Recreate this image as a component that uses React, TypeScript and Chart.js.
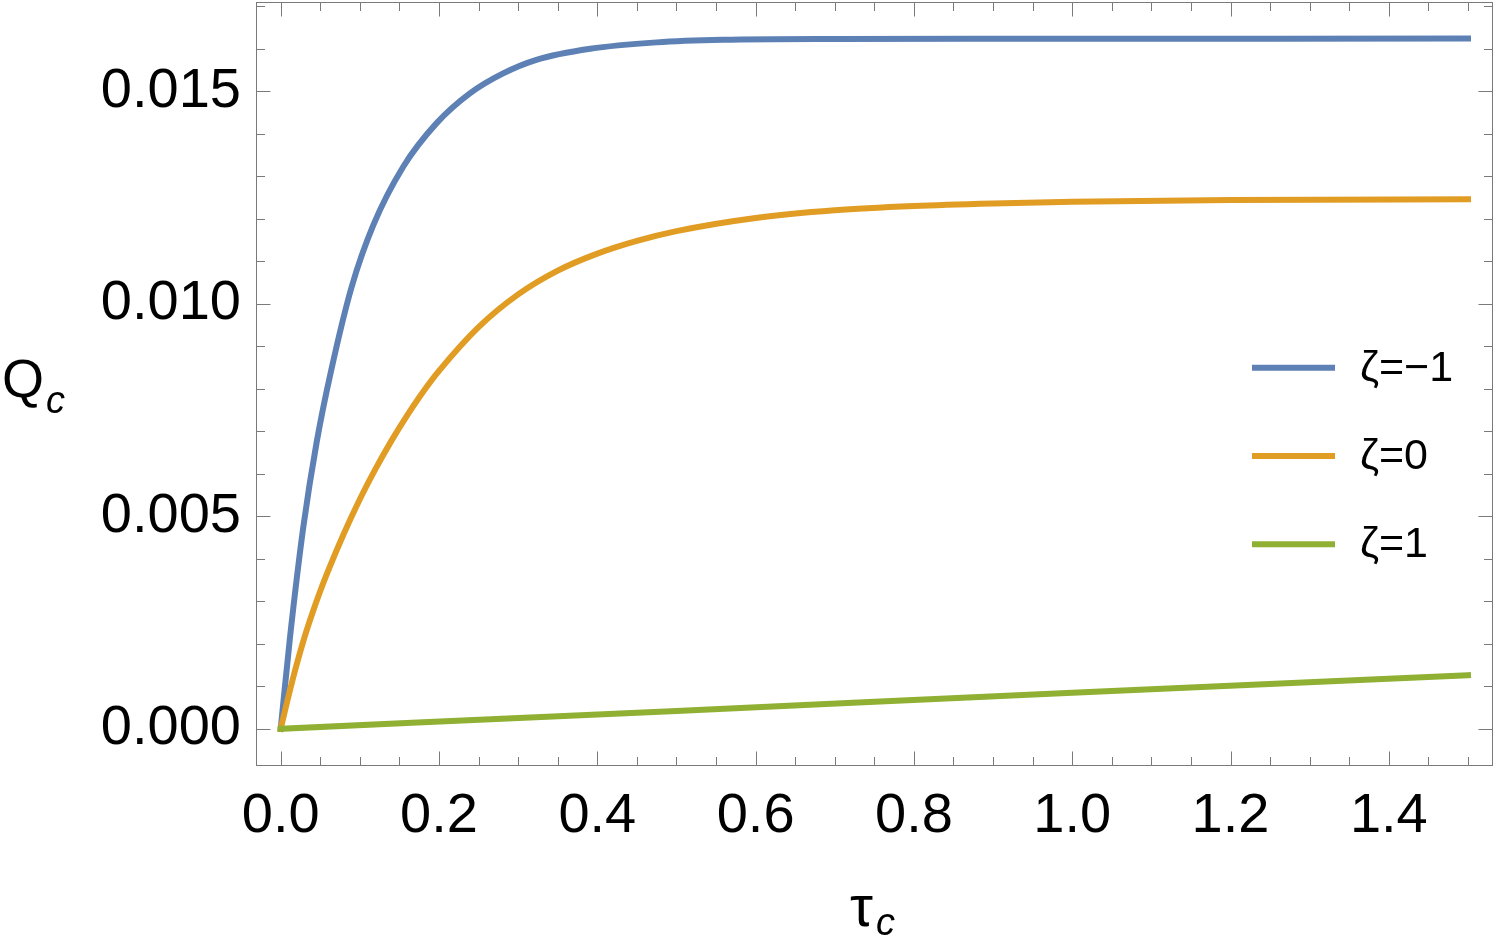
import React, { useEffect, useRef } from "react";
import { Chart, registerables } from "chart.js";

Chart.register(...registerables);

// ---- data ----
// ζ = −1
const tauZetaMinus1 = [0, 0.0118, 0.0286, 0.0455, 0.064, 0.0897, 0.117, 0.155, 0.197, 0.239, 0.281, 0.323, 0.391, 0.475, 0.559, 0.7, 1.0, 1.5];
const qZetaMinus1 = [0, 0.00216, 0.00475, 0.00675, 0.00845, 0.0104, 0.01185, 0.01323, 0.01425, 0.01495, 0.01542, 0.01574, 0.016, 0.01615, 0.01621, 0.01623, 0.016235, 0.01624];
// ζ = 0
const tauZeta0 = [0, 0.01, 0.02, 0.03, 0.04, 0.05, 0.06, 0.08, 0.1, 0.12, 0.14, 0.16, 0.18, 0.2, 0.25, 0.3, 0.35, 0.4, 0.45, 0.5, 0.6, 0.7, 0.8, 0.9, 1.0, 1.2, 1.5];
const qZeta0 = [0, 0.00078, 0.0015, 0.00215, 0.00272, 0.00324, 0.00372, 0.0046, 0.0054, 0.00612, 0.00678, 0.00738, 0.00793, 0.00842, 0.00945, 0.01022, 0.01078, 0.01118, 0.01148, 0.01171, 0.01202, 0.0122, 0.0123, 0.01236, 0.0124, 0.01244, 0.01246];
// ζ = 1
const tauZeta1 = [0, 0.5, 1.0, 1.5];
const qZeta1 = [0, 0.00042, 0.00085, 0.00126];

const seriesLabels = ["ζ=−1", "ζ=0", "ζ=1"];
const seriesColors = ["#5E81B5", "#E19C24", "#8FB032"];

const xTickValues = [0, 0.2, 0.4, 0.6, 0.8, 1.0, 1.2, 1.4];
const yTickValues = [0, 0.005, 0.01, 0.015];

const X_MIN = -0.0312;
const X_MAX = 1.5316;
const Y_MIN = -0.000876;
const Y_MAX = 0.0171;

const FONT = '"Liberation Sans", Arial, sans-serif';
const FRAME = "#7a7a7a";

const decorPlugin = {
  id: "decor",
  afterDraw(chart: any) {
    const { ctx, chartArea: a, scales } = chart;
    const xs = scales.x;
    const ys = scales.y;
    ctx.save();
    // frame
    ctx.strokeStyle = FRAME;
    ctx.lineWidth = 1;
    ctx.strokeRect(a.left + 0.5, a.top + 0.5, a.right - a.left - 1, a.bottom - a.top - 1);
    ctx.beginPath();
    // x ticks (every 0.05, major every 0.2)
    for (let i = 0; i <= 30; i++) {
      const v = i * 0.05;
      const px = Math.round(xs.getPixelForValue(v)) + 0.5;
      const len = i % 4 === 0 ? 14.5 : 9;
      ctx.moveTo(px, a.bottom);
      ctx.lineTo(px, a.bottom - len);
      ctx.moveTo(px, a.top);
      ctx.lineTo(px, a.top + len);
    }
    // y ticks (every 0.001, major every 0.005)
    for (let i = 0; i <= 17; i++) {
      const v = i * 0.001;
      const py = Math.round(ys.getPixelForValue(v)) + 0.5;
      const len = i % 5 === 0 ? 14.5 : 9;
      ctx.moveTo(a.left, py);
      ctx.lineTo(a.left + len, py);
      ctx.moveTo(a.right, py);
      ctx.lineTo(a.right - len, py);
    }
    ctx.stroke();

    // axis titles
    ctx.fillStyle = "#000";
    ctx.textBaseline = "alphabetic";
    ctx.textAlign = "left";
    ctx.font = `54px ${FONT}`;
    ctx.fillText("Q", 2, 397);
    ctx.font = `italic 38px ${FONT}`;
    ctx.fillText("c", 46, 412.5);

    ctx.font = `58px ${FONT}`;
    ctx.fillText("τ", 850, 926);
    ctx.font = `italic 38px ${FONT}`;
    ctx.fillText("c", 876, 934.5);

    // legend
    const legendY = [367.7, 456, 544.3];
    chart.data.datasets.forEach((ds: any, i: number) => {
      const y = legendY[i];
      ctx.strokeStyle = ds.borderColor;
      ctx.lineWidth = 6;
      ctx.lineCap = "butt";
      ctx.beginPath();
      ctx.moveTo(1252, y);
      ctx.lineTo(1335, y);
      ctx.stroke();
      ctx.fillStyle = "#000";
      ctx.font = `43px ${FONT}`;
      ctx.textBaseline = "middle";
      ctx.fillText(ds.label, 1360, y + 1);
    });
    ctx.restore();
  },
};

export default function App() {
  const canvasRef = useRef<HTMLCanvasElement | null>(null);

  useEffect(() => {
    const canvas = canvasRef.current;
    if (!canvas) return;
    const mk = (xv: number[], yv: number[]) => xv.map((x, i) => ({ x, y: yv[i] }));
    const chart = new Chart(canvas, {
      type: "line",
      data: {
        datasets: [
          {
            label: seriesLabels[0],
            data: mk(tauZetaMinus1, qZetaMinus1),
            borderColor: seriesColors[0],
            order: 2,
          },
          {
            label: seriesLabels[1],
            data: mk(tauZeta0, qZeta0),
            borderColor: seriesColors[1],
            order: 1,
          },
          {
            label: seriesLabels[2],
            data: mk(tauZeta1, qZeta1),
            borderColor: seriesColors[2],
            order: 0,
          },
        ].map((d) => ({
          ...d,
          borderWidth: 6,
          pointRadius: 0,
          fill: false,
          cubicInterpolationMode: "monotone" as const,
          borderCapStyle: "square" as const,
        })),
      },
      options: {
        animation: false,
        responsive: false,
        devicePixelRatio: 1,
        layout: { padding: { top: 2, right: 6, left: 0, bottom: 0 } },
        plugins: { legend: { display: false }, tooltip: { enabled: false } },
        scales: {
          x: {
            type: "linear",
            min: X_MIN,
            max: X_MAX,
            grid: { display: false, drawTicks: false },
            border: { display: false },
            afterBuildTicks: (s: any) => {
              s.ticks = xTickValues.map((v) => ({ value: v }));
            },
            afterFit: (s: any) => {
              s.height = 174;
              s.paddingLeft = 0;
              s.paddingRight = 0;
            },
            ticks: {
              autoSkip: false,
              maxRotation: 0,
              padding: 17,
              color: "#000",
              font: { family: FONT, size: 56 },
              callback: (v: any) => Number(v).toFixed(1),
            },
          },
          y: {
            type: "linear",
            min: Y_MIN,
            max: Y_MAX,
            grid: { display: false, drawTicks: false },
            border: { display: false },
            afterBuildTicks: (s: any) => {
              s.ticks = yTickValues.map((v) => ({ value: v }));
            },
            afterFit: (s: any) => {
              s.width = 256;
              s.paddingTop = 0;
              s.paddingBottom = 0;
            },
            ticks: {
              autoSkip: false,
              padding: 15,
              color: "#000",
              font: { family: FONT, size: 56 },
              callback: (v: any) => Number(v).toFixed(3),
            },
          },
        },
      },
      plugins: [decorPlugin],
    });
    return () => chart.destroy();
  }, []);

  return (
    <div style={{ position: "fixed", left: 0, top: 0, width: 1499, height: 940, background: "#fff" }}>
      <canvas ref={canvasRef} width={1499} height={940} style={{ display: "block" }} />
    </div>
  );
}
